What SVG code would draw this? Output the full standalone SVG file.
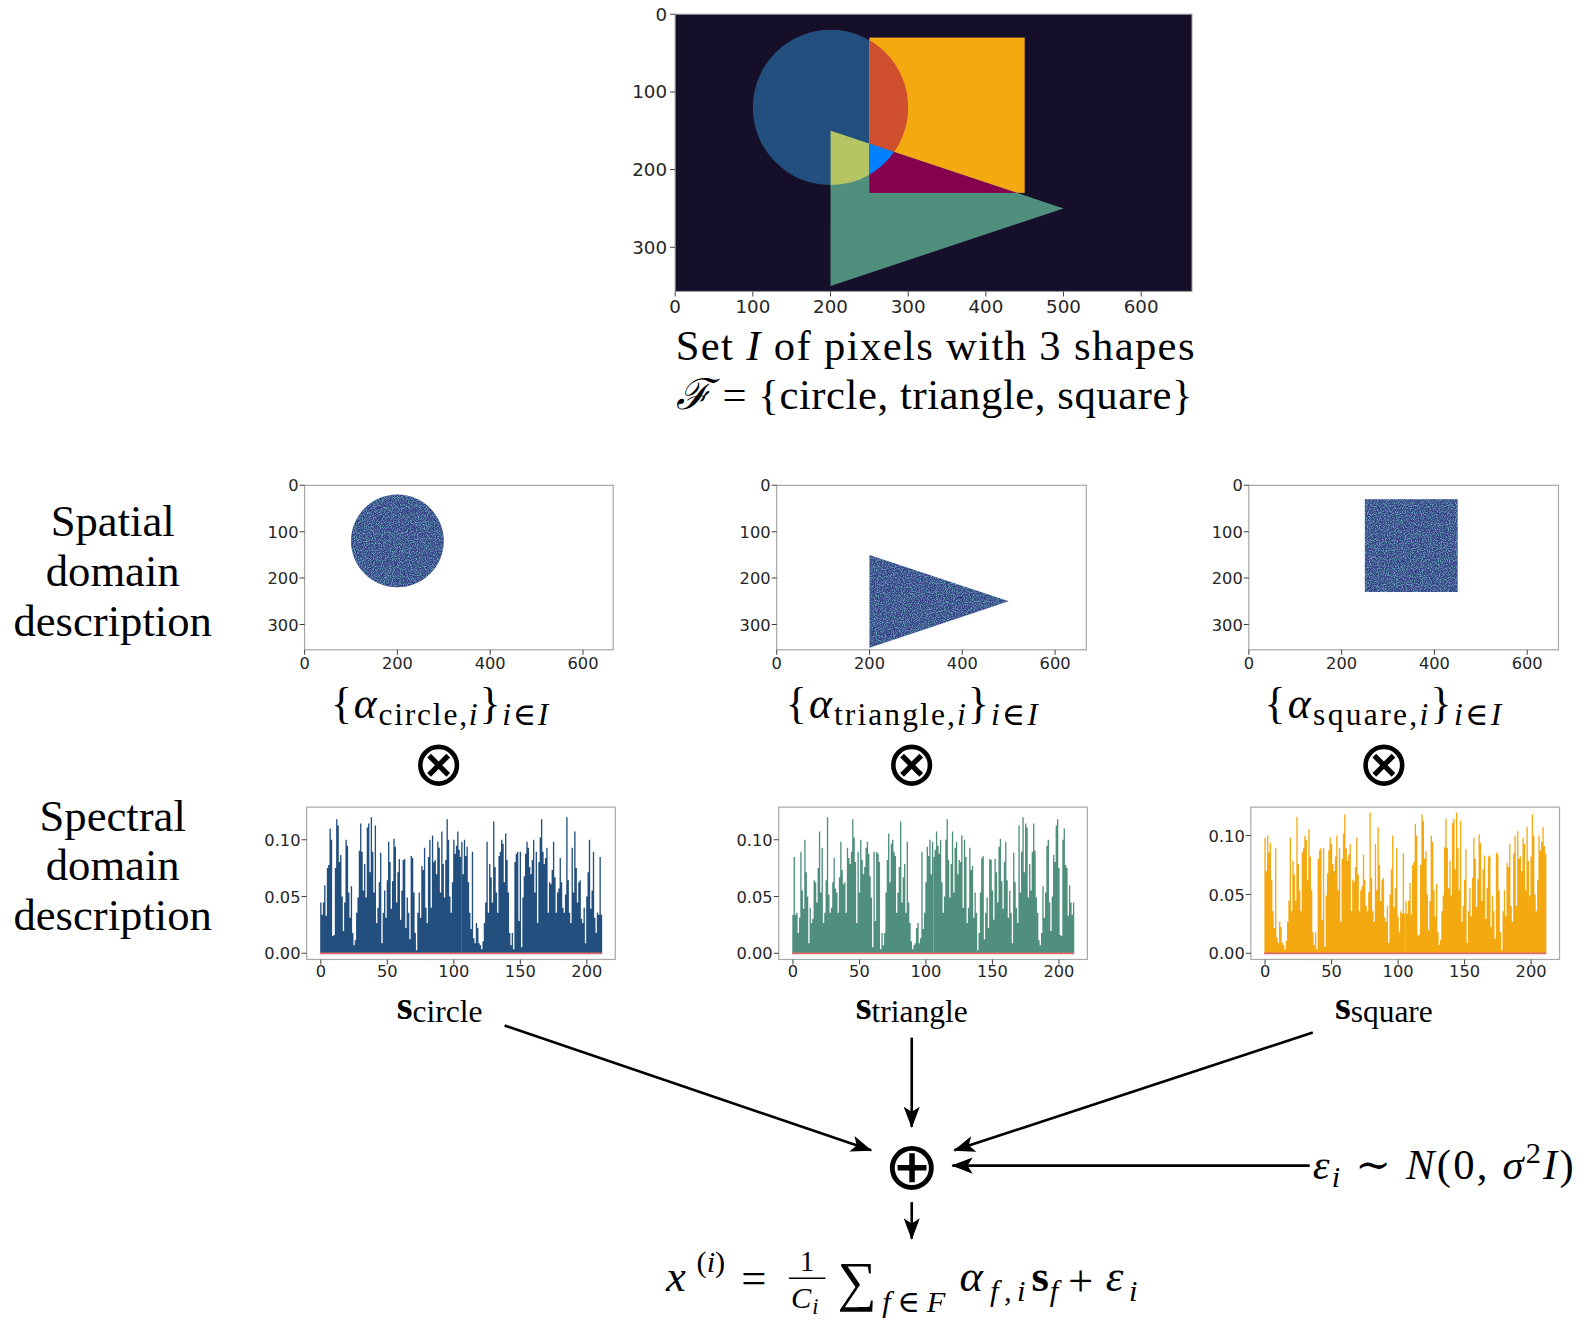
<svg xmlns="http://www.w3.org/2000/svg" xmlns:xlink="http://www.w3.org/1999/xlink" width="1592" height="1325" viewBox="0 0 1592 1325">
<style>
.tx{font-family:"Liberation Serif","DejaVu Serif",serif;fill:#000}
.it{font-style:italic}
.bf{font-weight:bold}
.tk{font-family:"DejaVu Sans","Liberation Sans",sans-serif;font-size:16px;fill:#262626}
.tkb{font-family:"DejaVu Sans","Liberation Sans",sans-serif;font-size:18px;fill:#262626}
.fr{fill:#fff;stroke:#a8a8a8;stroke-width:1.2}
.tm{stroke:#444;stroke-width:1}
.arr{stroke:#000;stroke-width:2.6;fill:none;marker-end:url(#ah)}
.base{stroke:#e06a6a;stroke-width:1.6}
.op{font-family:"DejaVu Sans",sans-serif;fill:#000}
</style>
<defs>
<marker id="ah" markerUnits="userSpaceOnUse" markerWidth="22" markerHeight="16" refX="20" refY="8" orient="auto">
<path d="M0,0 L21,8 L0,16 L5,8 Z" fill="#000"/>
</marker>
<clipPath id="cpSq"><rect x="856.25" y="37" width="153" height="153"/></clipPath>
<clipPath id="cpTri"><polygon points="818,128.75 818,281.75 1047.5,205.25"/></clipPath>
<filter id="noise" x="0" y="0" width="100%" height="100%">
<feTurbulence type="fractalNoise" baseFrequency="0.9" numOctaves="2" seed="3" result="t"/>
<feColorMatrix in="t" type="matrix" values="0 0 0 0 0.17  0 0 0 0 0.55  0 0 0 0 0.56  0 0 0 2.2 -1.0" result="c"/>
<feComposite in="c" in2="SourceGraphic" operator="in" result="m"/>
<feMerge><feMergeNode in="SourceGraphic"/><feMergeNode in="m"/></feMerge>
</filter>
<path id="A1" d="M0 0V50h1V38h1V50h1V67h1V37h1V84h1V87h1V123h1V112h1V17h1V18h1V84h1V132h1V126h1V90h1V97h1V56h1V22h1V50h1V112h1V106h1V60h1V35h1V66h1V20h1V8h1V13h1V40h1V55h1V101h1V128h1V100h1V62h1V88h1V55h1V124h1V128h1V80h1V134h1V100h1V60h1V126h1V30h1V45h1V70h1V99h1V10h1V40h1V62h1V35h1V72h1V110h1V90h1V44h1V71h1V113h1V105h1V50h1V80h1V93h1V33h1V62h1V92h1V93h1V25h1V55h1V40h1V14h1V96h1V94h1V60h1V20h1V3h1V40h1V60h1V35h1V86h1V82h1V104h1V45h1V30h1V95h1V112h1V45h1V116h1V90h1V92h1V78h1V110h1V104h1V60h1V120h1V88h1V55h1V92h1V132h1V112h1V56h1V40h1V70h1V112h1V98h1V106h1V120h1V102h1V95h1V0Z"/>
<path id="A2" d="M0 0V110h1V78h1V112h1V96h1V105h1V70h1V40h1V24h1V100h1V15h1V10h1V30h1V25h1V10h1V8h1V4h1V12h1V30h1V50h1V110h1V40h1V88h1V75h1V50h1V130h1V85h1V60h1V40h1V96h1V100h1V112h1V108h1V70h1V118h1V92h1V60h1V20h1V8h1V20h1V4h1V90h1V98h1V100h1V32h1V100h1V6h1V55h1V76h1V98h1V110h1V104h1V85h1V78h1V92h1V112h1V60h1V100h1V30h1V90h1V114h1V132h1V100h1V88h1V94h1V104h1V40h1V70h1V68h1V82h1V110h1V75h1V40h1V60h1V64h1V94h1V70h1V45h1V40h1V58h1V134h1V72h1V40h1V30h1V104h1V60h1V120h1V84h1V50h1V70h1V72h1V34h1V30h1V45h1V10h1V56h1V80h1V112h1V44h1V62h1V100h1V35h1V20h1V40h1V38h1V95h1V38h1V0Z"/>
</defs>
<rect width="1592" height="1325" fill="#fff"/>
<g transform="scale(1.0153)">

<g id="image-all">
<rect x="665" y="14" width="509" height="273" fill="#160f29"/>
<circle cx="818" cy="105.8" r="76.5" fill="#234f7e"/>
<rect x="856.25" y="37" width="153" height="153" fill="#f5a911"/>
<polygon points="818,128.75 818,281.75 1047.5,205.25" fill="#508f7e"/>
<circle cx="818" cy="105.8" r="76.5" fill="#d04f2f" clip-path="url(#cpSq)"/>
<circle cx="818" cy="105.8" r="76.5" fill="#b5c563" clip-path="url(#cpTri)"/>
<rect x="856.25" y="37" width="153" height="153" fill="#86004f" clip-path="url(#cpTri)"/>
<g clip-path="url(#cpSq)"><circle cx="818" cy="105.8" r="76.5" fill="#0080ff" clip-path="url(#cpTri)"/></g>
<rect x="665" y="14" width="509" height="273" fill="none" stroke="#999" stroke-width="1"/>
<path class="tm" d="M665 287v5M741.5 287v5M818 287v5M894.5 287v5M971 287v5M1047.5 287v5M1124 287v5M665 14h-5M665 90.5h-5M665 167h-5M665 243.5h-5"/>
<g class="tkb" text-anchor="middle">
<text x="665" y="308">0</text><text x="741.5" y="308">100</text><text x="818" y="308">200</text><text x="894.5" y="308">300</text><text x="971" y="308">400</text><text x="1047.5" y="308">500</text><text x="1124" y="308">600</text>
</g>
<g class="tkb" text-anchor="end">
<text x="657" y="20.5">0</text><text x="657" y="97">100</text><text x="657" y="173.5">200</text><text x="657" y="250">300</text>
</g>
<text class="tx" x="921" y="355" text-anchor="middle" font-size="42" textLength="511" lengthAdjust="spacing">Set <tspan class="it">I</tspan> of pixels with 3 shapes</text>
<text class="tx" x="920" y="403" text-anchor="middle" font-size="42" textLength="509" lengthAdjust="spacing"><tspan class="it">ℱ</tspan> = {circle, triangle, square}</text>
</g>

<g id="label-spatial">
<text class="tx" x="111" y="528" text-anchor="middle" font-size="44">Spatial</text>
<text class="tx" x="111" y="577" text-anchor="middle" font-size="44">domain</text>
<text class="tx" x="111" y="626" text-anchor="middle" font-size="44">description</text>
</g>
<g id="label-spectral">
<text class="tx" x="111" y="818" text-anchor="middle" font-size="44">Spectral</text>
<text class="tx" x="111" y="867" text-anchor="middle" font-size="44">domain</text>
<text class="tx" x="111" y="916" text-anchor="middle" font-size="44">description</text>
</g>

<g id="spatial-circle">
<rect class="fr" x="300" y="478" width="304" height="162"/>
<circle cx="391.4" cy="532.8" r="45.7" fill="#3a4389" filter="url(#noise)"/>
<path class="tm" d="M300 640v5M391.4 640v5M482.8 640v5M574.2 640v5M300 478h-5M300 523.7h-5M300 569.4h-5M300 615.1h-5"/>
<g class="tk" text-anchor="middle"><text x="300" y="659">0</text><text x="391.4" y="659">200</text><text x="482.8" y="659">400</text><text x="574.2" y="659">600</text></g>
<g class="tk" text-anchor="end"><text x="294" y="484">0</text><text x="294" y="529.5">100</text><text x="294" y="575">200</text><text x="294" y="621">300</text></g>
<text class="tx" x="433" y="707" text-anchor="middle" font-size="43" textLength="214" lengthAdjust="spacing">{<tspan class="it">α</tspan><tspan font-size="31" dy="7">circle,<tspan class="it">i</tspan></tspan><tspan dy="-7">}</tspan><tspan class="it" font-size="31" dy="7">i</tspan><tspan font-size="31">∈</tspan><tspan class="it" font-size="31">I</tspan></text>
</g>

<g id="spatial-triangle">
<rect class="fr" x="765" y="478" width="305" height="162"/>
<polygon points="856.4,546.6 856.4,638 993.5,592.3" fill="#3a4389" filter="url(#noise)"/>
<path class="tm" d="M765 640v5M856.4 640v5M947.8 640v5M1039.2 640v5M765 478h-5M765 523.7h-5M765 569.4h-5M765 615.1h-5"/>
<g class="tk" text-anchor="middle"><text x="765" y="659">0</text><text x="856.4" y="659">200</text><text x="947.8" y="659">400</text><text x="1039.2" y="659">600</text></g>
<g class="tk" text-anchor="end"><text x="759" y="484">0</text><text x="759" y="529.5">100</text><text x="759" y="575">200</text><text x="759" y="621">300</text></g>
<text class="tx" x="898" y="707" text-anchor="middle" font-size="43" textLength="248" lengthAdjust="spacing">{<tspan class="it">α</tspan><tspan font-size="31" dy="7">triangle,<tspan class="it">i</tspan></tspan><tspan dy="-7">}</tspan><tspan class="it" font-size="31" dy="7">i</tspan><tspan font-size="31">∈</tspan><tspan class="it" font-size="31">I</tspan></text>
</g>

<g id="spatial-square">
<rect class="fr" x="1230" y="478" width="305" height="162"/>
<rect x="1344.3" y="491.7" width="91.4" height="91.4" fill="#3a4389" filter="url(#noise)"/>
<path class="tm" d="M1230 640v5M1321.4 640v5M1412.8 640v5M1504.2 640v5M1230 478h-5M1230 523.7h-5M1230 569.4h-5M1230 615.1h-5"/>
<g class="tk" text-anchor="middle"><text x="1230" y="659">0</text><text x="1321.4" y="659">200</text><text x="1412.8" y="659">400</text><text x="1504.2" y="659">600</text></g>
<g class="tk" text-anchor="end"><text x="1224" y="484">0</text><text x="1224" y="529.5">100</text><text x="1224" y="575">200</text><text x="1224" y="621">300</text></g>
<text class="tx" x="1362" y="707" text-anchor="middle" font-size="43" textLength="233" lengthAdjust="spacing">{<tspan class="it">α</tspan><tspan font-size="31" dy="7">square,<tspan class="it">i</tspan></tspan><tspan dy="-7">}</tspan><tspan class="it" font-size="31" dy="7">i</tspan><tspan font-size="31">∈</tspan><tspan class="it" font-size="31">I</tspan></text>
</g>

<g id="otimes-circle"><text class="op" x="432" y="773" text-anchor="middle" font-size="62">⊗</text></g>
<g id="otimes-triangle"><text class="op" x="898" y="773" text-anchor="middle" font-size="62">⊗</text></g>
<g id="otimes-square"><text class="op" x="1363" y="773" text-anchor="middle" font-size="62">⊗</text></g>

<g id="spectral-circle">
<rect class="fr" x="302" y="795" width="304" height="150"/>
<use href="#A1" transform="translate(315.35,939) scale(1.31,-1)" fill="#234f7e"/>
<use href="#A2" transform="translate(454.21,939) scale(1.31,-1)" fill="#234f7e"/>
<line class="base" x1="315" y1="939" x2="593" y2="939"/>
<path class="tm" d="M316 945v5M381.5 945v5M447 945v5M512.5 945v5M578 945v5M302 939h-5M302 883h-5M302 827h-5"/>
<g class="tk" text-anchor="middle"><text x="316" y="962">0</text><text x="381.5" y="962">50</text><text x="447" y="962">100</text><text x="512.5" y="962">150</text><text x="578" y="962">200</text></g>
<g class="tk" text-anchor="end"><text x="296" y="945">0.00</text><text x="296" y="889">0.05</text><text x="296" y="833">0.10</text></g>
<text class="tx" x="433" y="1004" text-anchor="middle" font-size="40"><tspan class="bf">s</tspan><tspan font-size="31" dy="3">circle</tspan></text>
</g>

<g id="spectral-triangle">
<rect class="fr" x="767" y="795" width="304" height="150"/>
<use href="#A1" transform="translate(1058.07,939) scale(-1.31,-1)" fill="#508f7e"/>
<use href="#A2" transform="translate(919.21,939) scale(-1.31,-1)" fill="#508f7e"/>
<line class="base" x1="780" y1="939" x2="1058" y2="939"/>
<path class="tm" d="M781 945v5M846.5 945v5M912 945v5M977.5 945v5M1043 945v5M767 939h-5M767 883h-5M767 827h-5"/>
<g class="tk" text-anchor="middle"><text x="781" y="962">0</text><text x="846.5" y="962">50</text><text x="912" y="962">100</text><text x="977.5" y="962">150</text><text x="1043" y="962">200</text></g>
<g class="tk" text-anchor="end"><text x="761" y="945">0.00</text><text x="761" y="889">0.05</text><text x="761" y="833">0.10</text></g>
<text class="tx" x="898" y="1004" text-anchor="middle" font-size="40"><tspan class="bf">s</tspan><tspan font-size="31" dy="3">triangle</tspan></text>
</g>

<g id="spectral-square">
<rect class="fr" x="1232" y="795" width="304" height="150"/>
<use href="#A2" transform="translate(1245.35,939) scale(1.31,-1.036)" fill="#f5a911"/>
<use href="#A1" transform="translate(1384.21,939) scale(1.31,-1.036)" fill="#f5a911"/>
<line class="base" x1="1245" y1="939" x2="1523" y2="939"/>
<path class="tm" d="M1246 945v5M1311.5 945v5M1377 945v5M1442.5 945v5M1508 945v5M1232 939h-5M1232 881h-5M1232 823h-5"/>
<g class="tk" text-anchor="middle"><text x="1246" y="962">0</text><text x="1311.5" y="962">50</text><text x="1377" y="962">100</text><text x="1442.5" y="962">150</text><text x="1508" y="962">200</text></g>
<g class="tk" text-anchor="end"><text x="1226" y="945">0.00</text><text x="1226" y="887">0.05</text><text x="1226" y="829">0.10</text></g>
<text class="tx" x="1363" y="1004" text-anchor="middle" font-size="40"><tspan class="bf">s</tspan><tspan font-size="31" dy="3">square</tspan></text>
</g>

<g id="oplus"><text class="op" x="898" y="1171" text-anchor="middle" font-size="66">⊕</text></g>

<g id="noise-label">
<text class="tx" x="1293" y="1161" font-size="42" textLength="257" lengthAdjust="spacing"><tspan class="it">ε</tspan><tspan class="it" font-size="30" dy="8">i</tspan><tspan dy="-8"> ∼ </tspan><tspan class="it">N</tspan>(0, <tspan class="it">σ</tspan><tspan font-size="30" dy="-16">2</tspan><tspan class="it" dy="16">I</tspan>)</text>
</g>

<g id="output-formula" class="tx">
<text x="656" y="1272" font-size="44" class="it">x</text>
<text x="686" y="1253" font-size="30">(<tspan class="it">i</tspan>)</text>
<text x="730" y="1274" font-size="44">=</text>
<text x="795" y="1252" font-size="28" text-anchor="middle">1</text>
<line x1="777" y1="1259" x2="813" y2="1259" stroke="#000" stroke-width="1.6"/>
<text x="779" y="1288" font-size="30" class="it">C</text>
<text x="800" y="1294" font-size="22" class="it">i</text>
<text x="825" y="1280" font-size="54">∑</text>
<text x="869" y="1292" font-size="30" textLength="62" lengthAdjust="spacing"><tspan class="it">f</tspan>∈<tspan class="it">F</tspan></text>
<text x="945" y="1272" font-size="44" class="it">α</text>
<text x="975" y="1281" font-size="30" class="it" textLength="35" lengthAdjust="spacing">f,i</text>
<text x="1016" y="1272" font-size="44" class="bf">s</text>
<text x="1034" y="1281" font-size="30" class="it">f</text>
<text x="1052" y="1276" font-size="44">+</text>
<text x="1089" y="1272" font-size="44" class="it">ε</text>
<text x="1112" y="1281" font-size="30" class="it">i</text>
</g>

<g id="connectors">
<line class="arr" x1="497" y1="1010" x2="858" y2="1133"/>
<line class="arr" x1="898" y1="1022" x2="898" y2="1110"/>
<line class="arr" x1="1293" y1="1017" x2="940" y2="1133"/>
<line class="arr" x1="1290" y1="1148" x2="938" y2="1148"/>
<line class="arr" x1="898" y1="1184" x2="898" y2="1220"/>
</g>
</g>
</svg>
